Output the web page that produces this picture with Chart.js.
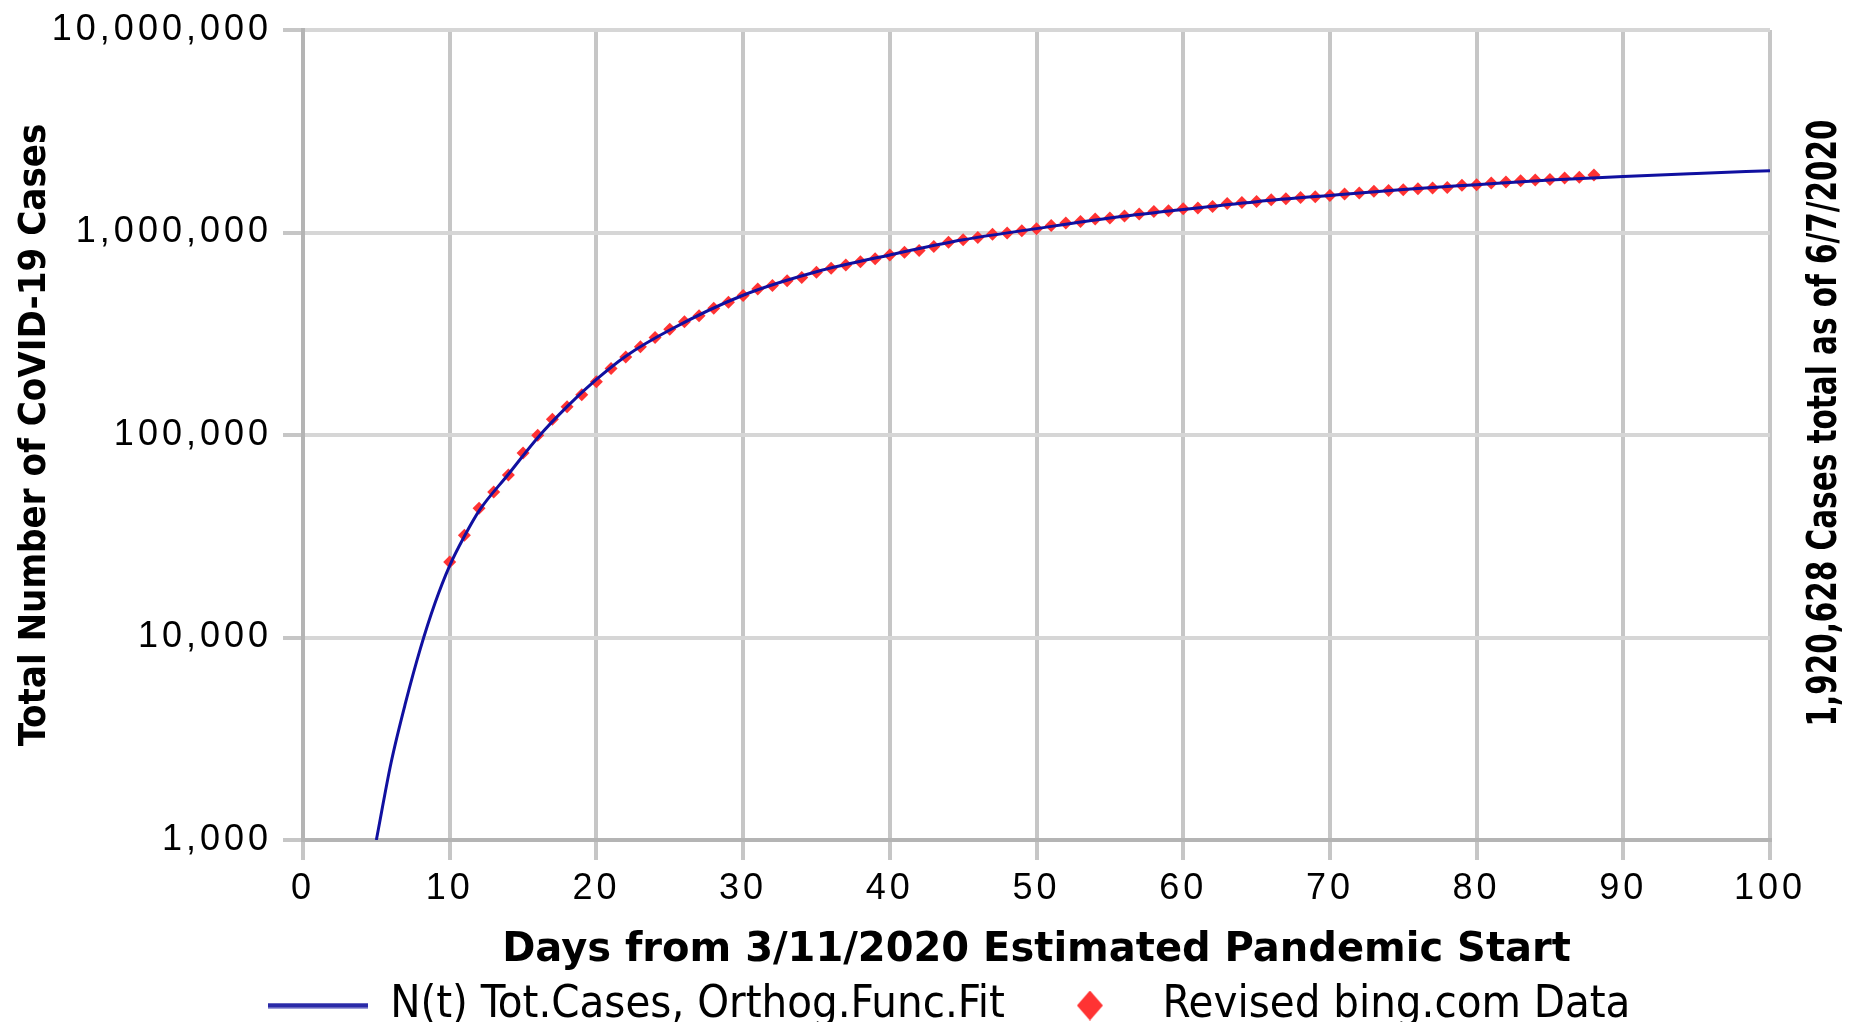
<!DOCTYPE html>
<html>
<head>
<meta charset="utf-8">
<title>Total Number of CoVID-19 Cases</title>
<script src="https://cdn.jsdelivr.net/npm/chart.js@4.4.0/dist/chart.umd.min.js"></script>
<style>
  html, body { margin: 0; padding: 0; background: #fff; }
  #wrap { width: 1858px; height: 1022px; }
</style>
</head>
<body>
<div id="wrap"><canvas id="lineChart"></canvas></div>
<script>
// Fitted curve N(t)
const fitDays = [5, 6, 7, 8, 9, 10, 11, 12, 14, 16, 18, 20, 22, 25, 30, 35, 40, 45, 50, 55, 60, 65, 70, 75, 80, 85, 90, 95, 100];
const fitCases = [1000, 2400, 4790, 8810, 14800, 22650, 31600, 42200, 64000, 97000, 138000, 188000, 245000, 330000,
  490000, 640000, 775000, 920000, 1045000, 1180000, 1300000, 1420000, 1525000, 1630000, 1722000, 1815000,
  1893000, 1958000, 2018000];

// Revised bing.com data, one value per day starting at day 10
const dataStartDay = 10;
const dataCases = [
  23600, 32000, 43500, 52300, 63500, 81500, 99600, 119700, 137700, 158000,      // 10-19
  183000, 213000, 243000, 273000, 303000, 333000, 362000, 388000, 422000, 452000, // 20-29
  488000, 526000, 547000, 577000, 599000, 636000, 666000, 692000, 718000, 741000, // 30-39
  775000, 798000, 815000, 853000, 896000, 920000, 945000, 981000, 995000, 1019000, // 40-49
  1043000, 1083000, 1115000, 1133000, 1165000, 1180000, 1205000, 1235000, 1271000, 1282000, // 50-59
  1310000, 1320000, 1345000, 1390000, 1405000, 1423000, 1451000, 1468000, 1490000, 1500000, // 60-69
  1525000, 1548000, 1567000, 1597000, 1610000, 1627000, 1646000, 1657000, 1670000, 1709000, // 70-79
  1722000, 1755000, 1775000, 1803000, 1815000, 1826000, 1859000, 1872000, 1920628           // 80-88
];

const yTicks = [1000, 10000, 100000, 1000000, 10000000];
const sideNoteText = "1,920,628 Cases total as of 6/7/2020";

const fitPoints = fitDays.map((d, i) => ({ x: d, y: fitCases[i] }));
const dataPoints = dataCases.map((v, i) => ({ x: dataStartDay + i, y: v }));

// legend icons: a line and a diamond
const lineIcon = document.createElement("canvas");
lineIcon.width = 100; lineIcon.height = 6;
let ic = lineIcon.getContext("2d");
ic.fillStyle = "rgba(60, 60, 180, 0.5)";
ic.fillRect(0, 0, 100, 6);
ic.fillStyle = "#2a2aa8";
ic.fillRect(0, 1, 100, 4);

const diamondIcon = document.createElement("canvas");
diamondIcon.width = 26; diamondIcon.height = 30;
ic = diamondIcon.getContext("2d");
ic.fillStyle = "#ff3333";
ic.beginPath();
ic.moveTo(13, 0); ic.lineTo(26, 15); ic.lineTo(13, 30); ic.lineTo(0, 15);
ic.closePath(); ic.fill();

const legendIcons = [lineIcon, diamondIcon];

// wider tick labels, like the original's spaced digits
const spacedTicks = {
  id: "spacedTicks",
  afterUpdate(chart) {
    ["x", "y"].forEach(id => {
      const s = chart.scales[id];
      if (s && !s._spaced) {
        const orig = s.drawLabels;
        s.drawLabels = function (area) {
          const c = this.ctx;
          c.save();
          c.letterSpacing = "4px";
          orig.call(this, area);
          c.restore();
        };
        s._spaced = true;
      }
    });
  }
};

// rotated note at the right of the plot
const sideNote = {
  id: "sideNote",
  afterDraw(chart) {
    const ctx = chart.ctx;
    const area = chart.chartArea;
    ctx.save();
    ctx.translate(area.right + 56, (area.top + area.bottom) / 2 - 12);
    ctx.rotate(-Math.PI / 2);
    ctx.font = "bold 40px 'DejaVu Sans Condensed', 'DejaVu Sans'";
    ctx.fillStyle = "#000";
    ctx.textAlign = "center";
    ctx.textBaseline = "middle";
    ctx.fillText(sideNoteText, 0, 0, 607);
    ctx.restore();
  }
};

var ctx = document.getElementById("lineChart").getContext("2d");
var lineChart = new Chart(ctx, {
  type: "scatter",
  data: {
    datasets: [
      {
        type: "line",
        label: "N(t) Tot.Cases, Orthog.Func.Fit",
        data: fitPoints,
        borderColor: "#1010a0",
        backgroundColor: "#1010a0",
        borderWidth: 3,
        pointRadius: 0,
        cubicInterpolationMode: "monotone",
        fill: false,
        order: 0
      },
      {
        label: "Revised bing.com Data",
        data: dataPoints,
        pointStyle: "rectRot",
        pointRadius: 6.5,
        pointBackgroundColor: "#ff3333",
        pointBorderWidth: 0,
        backgroundColor: "#ff3333",
        borderColor: "#ff3333",
        showLine: false,
        order: 1
      }
    ]
  },
  options: {
    responsive: true,
    maintainAspectRatio: false,
    animation: false,
    layout: { padding: { left: 40, right: 0, top: 30, bottom: -16 } },
    plugins: {
      tooltip: { enabled: false },
      legend: {
        position: "bottom",
        labels: {
          usePointStyle: true,
          pointStyleWidth: 100,
          padding: 35,
          color: "#000",
          font: { family: "'DejaVu Sans Condensed', 'DejaVu Sans'", size: 45, lineHeight: 1 },
          generateLabels(chart) {
            const items = Chart.defaults.plugins.legend.labels.generateLabels(chart);
            items.forEach(it => { it.pointStyle = legendIcons[it.datasetIndex]; });
            return items;
          }
        }
      }
    },
    scales: {
      x: {
        type: "linear",
        min: 0,
        max: 100,
        ticks: {
          stepSize: 10,
          maxRotation: 0,
          padding: 11,
          color: "#000",
          font: { family: "'Liberation Sans', Arial", size: 36, lineHeight: 1 }
        },
        grid: { color: "#c6c6c6", lineWidth: 4, tickLength: 20, tickColor: "#c6c6c6" },
        border: { color: "#b4b4b4", width: 4 },
        title: {
          display: true,
          text: "Days from 3/11/2020 Estimated Pandemic Start",
          color: "#000",
          padding: { top: 13, bottom: -23 },
          font: { family: "'DejaVu Sans', Verdana", size: 40, weight: "bold", lineHeight: 1 }
        }
      },
      y: {
        type: "logarithmic",
        min: 1000,
        max: 10000000,
        afterBuildTicks: (scale) => { scale.ticks = yTicks.map(v => ({ value: v })); },
        afterFit: (scale) => { scale.width = 263; },
        ticks: {
          padding: 11,
          color: "#000",
          font: { family: "'Liberation Sans', Arial", size: 36, lineHeight: 1 },
          callback: (v) => Number(v).toLocaleString("en-US")
        },
        grid: { color: "#d6d6d6", lineWidth: 4, tickLength: 20, tickColor: "#c6c6c6" },
        border: { color: "#b4b4b4", width: 4 },
        title: {
          display: true,
          text: "Total Number of CoVID-19 Cases",
          color: "#000",
          padding: { top: -24, bottom: 0 },
          font: { family: "'DejaVu Sans Condensed', 'DejaVu Sans'", size: 38, weight: "bold", lineHeight: 1 }
        }
      },
      // empty box on the right that keeps room for the rotated note
      note: {
        type: "linear",
        position: "right",
        afterFit: (scale) => { scale.width = 88; },
        grid: { display: false, drawTicks: false },
        border: { display: false },
        ticks: { display: false }
      }
    }
  },
  plugins: [spacedTicks, sideNote]
});
</script>
</body>
</html>
